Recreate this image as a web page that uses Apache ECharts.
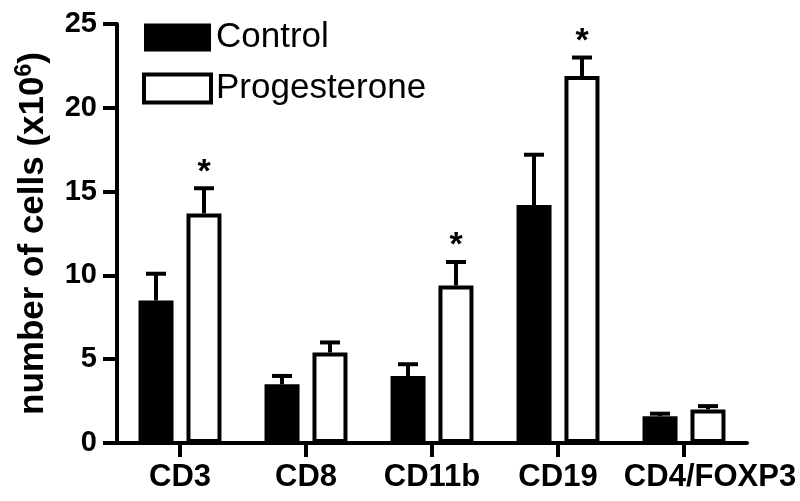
<!DOCTYPE html>
<html>
<head>
<meta charset="utf-8">
<script src="https://cdn.jsdelivr.net/npm/echarts@6/dist/echarts.min.js"></script>
<style>
  html, body { margin: 0; padding: 0; background: #fff; }
  #chart { width: 800px; height: 501px; }
</style>
</head>
<body>
<div id="chart"></div>
<script>
const categories = ['CD3', 'CD8', 'CD11b', 'CD19', 'CD4/FOXP3']
const controlMean = [8.5, 3.5, 4.0, 14.2, 1.6]
const controlErr = [10.1, 4.0, 4.7, 17.2, 1.75]
const progMean = [13.7, 5.4, 9.4, 21.9, 2.0]
const progErr = [15.2, 6.0, 10.8, 23.0, 2.2]
const signif = ['*', '', '*', '*', '']
const yTicks = [0, 5, 10, 15, 20, 25]

const FONT = 'Liberation Sans, Arial, sans-serif'
const BAR_W = 35
const HALF_SPACING = 24 // distance from category centre to each bar centre

const errSeries = (mean, err, side, stars) => ({
  type: 'custom',
  silent: true,
  z: 1,
  data: mean.map((m, i) => [i, m, err[i]]),
  renderItem: (params, api) => {
    const i = api.value(0)
    const top = api.coord([i, api.value(1)])
    const cap = api.coord([i, api.value(2)])
    const x = top[0] + side * HALF_SPACING
    const children = [
      { type: 'line', shape: { x1: x, y1: top[1], x2: x, y2: cap[1] }, style: { stroke: '#000', lineWidth: 4 } },
      { type: 'line', shape: { x1: x - 10, y1: cap[1], x2: x + 10, y2: cap[1] }, style: { stroke: '#000', lineWidth: 4 } },
    ]
    if (stars && stars[i]) {
      children.push({
        type: 'text',
        style: {
          x: x, y: cap[1] + 1, text: stars[i], align: 'center', verticalAlign: 'bottom',
          font: 'bold 34px ' + FONT, fill: '#000',
        },
      })
    }
    return { type: 'group', children }
  },
})

const mychart = echarts.init(document.getElementById('chart'))
mychart.setOption({
  animation: false,
  textStyle: { fontFamily: FONT },
  grid: { left: 117, right: 53, top: 24, bottom: 58 },
  legend: {
    orient: 'vertical',
    left: 142,
    top: 20,
    padding: 0,
    itemWidth: 67,
    itemHeight: 28,
    itemGap: 16,
    icon: 'rect',
    textStyle: { fontSize: 35, lineHeight: 28, color: '#000', fontFamily: FONT },
    data: [
      { name: 'Control', itemStyle: { color: '#000', borderWidth: 0 } },
      { name: 'Progesterone', itemStyle: { color: '#fff', borderColor: '#000', borderWidth: 4 } },
    ],
  },
  xAxis: {
    type: 'category',
    data: categories,
    axisLine: { lineStyle: { color: '#000', width: 4 } },
    axisTick: { show: true, alignWithLabel: true, length: 14, lineStyle: { color: '#000', width: 4 } },
    axisLabel: {
      interval: 0, color: '#000', fontSize: 31, fontWeight: 'bold', margin: 19, fontFamily: FONT,
      // the last label sits right of its tick in the original
      formatter: (v, i) => (i === categories.length - 1 ? '{r|' + v + '}' : v),
      rich: { r: { fontSize: 31, fontWeight: 'bold', color: '#000', fontFamily: FONT, padding: [0, 0, 0, 52] } },
    },
  },
  yAxis: {
    type: 'value',
    min: yTicks[0],
    max: yTicks[yTicks.length - 1],
    interval: 5,
    name: '{b|number of cells (x10}{s|6}{b|)}',
    nameLocation: 'middle',
    nameGap: 64,
    nameTextStyle: {
      rich: {
        b: { fontSize: 35, fontWeight: 'bold', color: '#000', fontFamily: FONT, lineHeight: 40 },
        s: { fontSize: 23, fontWeight: 'bold', color: '#000', fontFamily: FONT, verticalAlign: 'top', lineHeight: 40 },
      },
    },
    splitLine: { show: false },
    axisLine: { show: true, lineStyle: { color: '#000', width: 4 } },
    axisTick: { show: true, length: 14, lineStyle: { color: '#000', width: 4 } },
    axisLabel: { color: '#000', fontSize: 29, fontWeight: 'bold', margin: 20, fontFamily: FONT },
  },
  series: [
    {
      name: 'Control',
      type: 'bar',
      data: controlMean,
      barWidth: BAR_W,
      barGap: '37%',
      itemStyle: { color: '#000' },
      z: 2,
    },
    {
      name: 'Progesterone',
      type: 'bar',
      data: progMean,
      barWidth: BAR_W,
      barGap: '37%',
      itemStyle: { color: '#fff', borderColor: '#000', borderWidth: 4 },
      z: 2,
    },
    errSeries(controlMean, controlErr, -1, null),
    errSeries(progMean, progErr, 1, signif),
  ],
})
</script>
</body>
</html>
